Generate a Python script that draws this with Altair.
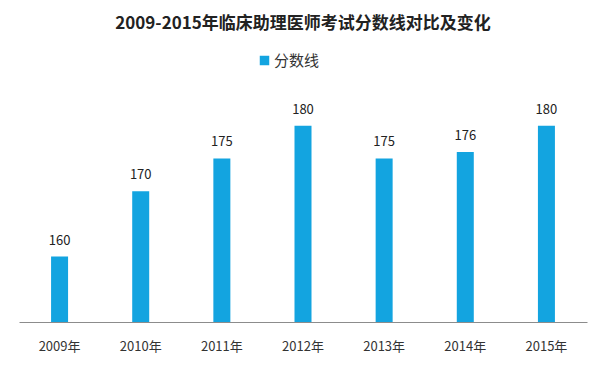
import altair as alt
import pandas as pd

years = ["2009年", "2010年", "2011年", "2012年", "2013年", "2014年", "2015年"]
scores = [160, 170, 175, 180, 175, 176, 180]
series = ["分数线"] * len(years)

df = pd.DataFrame({"year": years, "score": scores, "series": series})

FONT = "Noto Sans CJK SC"

base = alt.Chart(df).encode(
    x=alt.X("year:N", sort=years,
            scale=alt.Scale(paddingInner=0, paddingOuter=0),
            axis=alt.Axis(title=None, labelAngle=0, ticks=False, domainColor="#8c8c8c",
                          domainWidth=1, labelFontSize=13, labelColor="#333333",
                          labelFont=FONT, labelPadding=18)),
    y=alt.Y("score:Q", scale=alt.Scale(domain=[150, 185], zero=False),
            axis=None),
)

bars = base.mark_bar(size=17, color="#13A4E0").encode(
    y2=alt.datum(150),
    color=alt.Color("series:N", scale=alt.Scale(range=["#13A4E0"]),
                    legend=alt.Legend(title=None, orient="none", legendX=238, legendY=-40,
                                      symbolType="square", symbolSize=90,
                                      labelFontSize=15, labelFont=FONT, labelColor="#333333",
                                      labelOffset=2))
)

labels = base.mark_text(dy=-9, baseline="bottom", fontSize=13, font=FONT, color="#222222").encode(
    text="score:Q"
)

chart = (bars + labels).properties(
    width=568,
    height=229,
    background="white",
    padding={"left": 11, "right": 9, "top": 85, "bottom": 35},
    autosize=alt.AutoSizeParams(type="none"),
    title=alt.TitleParams("2009-2015年临床助理医师考试分数线对比及变化", anchor="middle",
                          fontSize=17, fontWeight="bold", font=FONT, color="#222222",
                          offset=20),
).configure_view(stroke=None)

chart.save("out.html", embed_options={"renderer": "svg", "actions": False})
